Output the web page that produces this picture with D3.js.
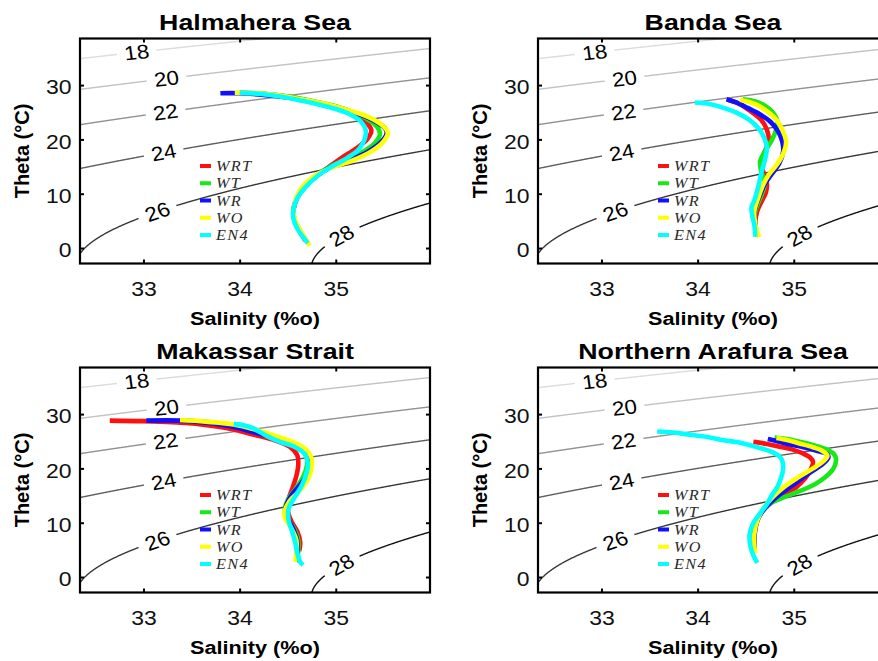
<!DOCTYPE html>
<html>
<head>
<meta charset="utf-8">
<script src="https://cdn.jsdelivr.net/npm/d3@7"></script>
<style>
  html, body { margin: 0; padding: 0; background: #fff; }
  svg { display: block; }
</style>
</head>
<body>
<svg id="chart" width="878" height="661"></svg>
<script>
// ---- Data: theta–salinity profiles, [salinity, potential temperature] ----
const regions = ["Halmahera Sea", "Banda Sea", "Makassar Strait", "Northern Arafura Sea"];
const seriesNames = ["WRT", "WT", "WR", "WO", "EN4"];
const xTicks = [33, 34, 35];
const yTicks = [0, 10, 20, 30];
const sigmaLevels = [18, 20, 22, 24, 26, 28];

const halmaheraWRT = [[34.00,28.6],[34.25,28.4],[34.50,27.9],[34.75,27.0],[35.00,25.9],[35.18,24.6],[35.31,23.2],[35.37,21.7],[35.33,20.1],[35.21,18.3],[35.06,16.6],[34.95,15.2],[34.82,13.5],[34.68,11.3],[34.60,9.2],[34.56,7.1],[34.57,5.3],[34.61,3.5],[34.68,1.5]];
const halmaheraWT  = [[34.00,28.6],[34.25,28.4],[34.50,27.9],[34.75,27.1],[35.00,26.1],[35.18,25.0],[35.33,23.7],[35.43,22.3],[35.46,21.0],[35.41,19.4],[35.27,17.6],[35.07,16.0],[34.92,14.8],[34.79,13.2],[34.67,11.2],[34.59,9.0],[34.56,7.0],[34.57,5.2],[34.62,3.4],[34.70,1.2]];
const halmaheraWR  = [[33.80,28.5],[34.00,28.5],[34.25,28.2],[34.50,27.7],[34.75,27.0],[35.00,26.0],[35.20,24.9],[35.38,23.6],[35.51,22.1],[35.53,21.2],[35.47,19.5],[35.33,17.7],[35.13,16.1],[34.94,14.8],[34.79,13.2],[34.67,11.2],[34.59,9.0],[34.56,7.0],[34.57,5.2],[34.62,3.4],[34.69,1.3]];
const halmaheraWO  = [[33.95,28.6],[34.20,28.5],[34.45,28.0],[34.70,27.2],[34.95,26.3],[35.15,25.3],[35.33,24.2],[35.47,22.8],[35.54,21.3],[35.50,19.7],[35.37,17.8],[35.17,16.1],[34.94,14.7],[34.76,13.0],[34.64,11.0],[34.58,8.8],[34.56,6.6],[34.59,4.6],[34.65,2.7],[34.73,0.4]];
const halmaheraEN4 = [[34.00,28.6],[34.20,28.4],[34.45,27.8],[34.65,27.1],[34.80,26.5],[35.00,25.6],[35.15,24.6],[35.26,23.3],[35.31,21.8],[35.30,20.0],[35.24,18.2],[35.12,16.6],[34.96,15.0],[34.82,13.4],[34.69,11.3],[34.60,9.2],[34.56,7.2],[34.56,5.4],[34.60,3.6],[34.66,2.0],[34.71,0.9]];

const bandaWRT = [[34.32,27.3],[34.44,26.5],[34.55,25.2],[34.66,23.6],[34.72,21.8],[34.74,19.8],[34.70,17.8],[34.66,15.9],[34.68,14.2],[34.72,12.0],[34.71,10.2],[34.66,8.4],[34.62,6.8],[34.60,4.8],[34.62,2.4]];
const bandaWT  = [[34.47,27.4],[34.60,27.0],[34.70,26.2],[34.79,24.8],[34.83,23.3],[34.82,22.0],[34.77,19.8],[34.70,17.8],[34.65,16.0],[34.66,14.2],[34.70,12.0],[34.66,9.6],[34.62,7.8],[34.59,6.0],[34.60,4.0],[34.62,2.2]];
const bandaWR  = [[34.30,27.4],[34.40,26.8],[34.52,25.8],[34.65,24.6],[34.76,23.2],[34.84,21.4],[34.88,19.6],[34.89,17.8],[34.85,15.6],[34.77,13.6],[34.70,11.8],[34.66,10.2],[34.62,8.4],[34.59,6.4],[34.60,4.2],[34.62,2.2]];
const bandaWO  = [[34.44,27.3],[34.60,26.5],[34.72,25.2],[34.82,23.6],[34.88,21.8],[34.92,19.6],[34.90,17.8],[34.83,15.5],[34.74,13.5],[34.68,11.6],[34.63,9.2],[34.59,6.8],[34.60,4.4],[34.64,2.0]];
const bandaEN4 = [[33.97,26.8],[34.10,26.6],[34.27,25.8],[34.42,24.8],[34.53,23.7],[34.63,22.1],[34.69,20.4],[34.72,18.6],[34.71,17.0],[34.69,15.6],[34.66,13.6],[34.63,11.2],[34.59,8.8],[34.56,7.5],[34.57,5.8],[34.59,4.2],[34.60,2.1]];

const makassarWRT = [[32.65,28.8],[33.00,28.7],[33.30,28.5],[33.60,28.1],[33.90,27.3],[34.15,26.2],[34.38,25.1],[34.52,24.0],[34.60,22.4],[34.61,20.6],[34.59,18.6],[34.55,16.4],[34.51,14.4],[34.50,12.4],[34.54,10.2],[34.60,8.4],[34.63,6.4],[34.62,4.8]];
const makassarWT  = [[33.40,28.8],[33.70,28.5],[33.95,27.8],[34.20,26.6],[34.42,25.3],[34.60,24.0],[34.69,22.4],[34.70,20.6],[34.66,18.4],[34.58,16.2],[34.50,14.2],[34.47,12.4],[34.50,10.6],[34.57,8.8],[34.61,6.8],[34.61,4.8],[34.60,2.8]];
const makassarWR  = [[33.03,28.8],[33.38,28.8],[33.65,28.4],[33.95,27.6],[34.20,26.4],[34.42,25.2],[34.60,24.0],[34.70,22.6],[34.73,20.8],[34.70,18.8],[34.62,16.8],[34.53,14.8],[34.48,12.8],[34.50,10.8],[34.56,8.8],[34.60,6.6],[34.60,4.4],[34.62,2.8]];
const makassarWO  = [[33.38,28.9],[33.65,28.6],[33.94,28.1],[34.15,27.2],[34.35,26.1],[34.55,24.9],[34.69,23.5],[34.75,21.8],[34.75,20.4],[34.72,18.3],[34.63,16.0],[34.52,14.0],[34.47,12.2],[34.47,11.0],[34.53,9.2],[34.59,6.8],[34.59,4.8],[34.58,2.8]];
const makassarEN4 = [[33.94,28.2],[34.05,27.9],[34.14,27.4],[34.22,26.6],[34.30,25.8],[34.42,24.9],[34.58,23.9],[34.68,22.6],[34.71,21.0],[34.70,19.4],[34.65,17.0],[34.57,14.6],[34.51,12.6],[34.51,10.4],[34.55,8.2],[34.58,6.2],[34.60,4.4],[34.63,2.8],[34.66,2.2]];

const arafuraWRT = [[34.58,24.9],[34.72,24.5],[34.85,24.0],[34.98,23.5],[35.09,22.8],[35.17,22.0],[35.20,21.2],[35.17,19.6],[35.12,18.2],[35.03,16.6],[34.90,15.1],[34.78,13.9],[34.70,12.6],[34.63,10.8],[34.60,9.0],[34.59,7.2],[34.59,5.2]];
const arafuraWT  = [[34.80,25.7],[34.93,25.4],[35.06,24.9],[35.20,24.3],[35.34,23.5],[35.42,22.6],[35.44,21.6],[35.41,19.9],[35.33,18.4],[35.22,17.1],[35.06,15.8],[34.90,14.7],[34.76,13.6],[34.66,11.8],[34.60,10.0],[34.58,8.0],[34.59,6.0]];
const arafuraWR  = [[34.73,25.4],[34.85,24.9],[34.96,24.4],[35.10,23.9],[35.23,23.3],[35.35,22.6],[35.36,22.0],[35.30,20.8],[35.15,19.0],[35.02,17.3],[34.90,15.8],[34.80,14.4],[34.70,12.7],[34.63,10.8],[34.60,8.8],[34.59,6.6],[34.59,5.0]];
const arafuraWO  = [[34.82,25.6],[34.94,25.2],[35.06,24.6],[35.20,23.9],[35.30,23.2],[35.35,22.3],[35.30,21.2],[35.20,20.0],[35.05,18.4],[34.90,16.6],[34.78,14.7],[34.69,12.8],[34.62,10.4],[34.59,8.0],[34.59,5.6],[34.60,4.4]];
const arafuraEN4 = [[33.58,26.8],[33.75,26.6],[33.92,26.2],[34.10,25.8],[34.27,25.2],[34.42,24.8],[34.56,24.2],[34.70,23.5],[34.80,22.8],[34.87,21.8],[34.89,20.0],[34.87,18.4],[34.83,16.6],[34.77,15.0],[34.72,13.4],[34.64,11.5],[34.57,9.6],[34.54,7.8],[34.55,5.6],[34.58,4.0],[34.62,2.6]];

const regionSeries = [
  [halmaheraWRT, halmaheraWT, halmaheraWR, halmaheraWO, halmaheraEN4],
  [bandaWRT, bandaWT, bandaWR, bandaWO, bandaEN4],
  [makassarWRT, makassarWT, makassarWR, makassarWO, makassarEN4],
  [arafuraWRT, arafuraWT, arafuraWR, arafuraWO, arafuraEN4]
];

// ---- Styling and layout ----
const seriesColors = ["#ff1010", "#18e818", "#1010ff", "#ffff00", "#00ffff"];
const sigmaColors = ["#dcdcdc", "#c2c2c2", "#929292", "#5e5e5e", "#383838", "#111111"];
const sigmaLabelS = [32.93, 33.24, 33.23, 33.21, 33.145, 35.06];
const panelLeft = [80, 538];
const panelTop = [38.5, 367.5];
const boxW = 350, boxH = 225;
const xDomain = [32.34, 35.98];
const yDomain = [-2.85, 38.58];
const SANS = "'Liberation Sans', Arial, Helvetica, sans-serif";
const SERIF = "'Liberation Serif', 'Times New Roman', serif";

// ---- Seawater density at surface pressure (UNESCO 1983), sigma-theta ----
function sigmaTheta(S, T) {
  const rw = 999.842594 + 6.793952e-2 * T - 9.095290e-3 * T * T + 1.001685e-4 * T ** 3
           - 1.120083e-6 * T ** 4 + 6.536332e-9 * T ** 5;
  const A = 0.824493 - 4.0899e-3 * T + 7.6438e-5 * T * T - 8.2467e-7 * T ** 3 + 5.3875e-9 * T ** 4;
  const B = -5.72466e-3 + 1.0227e-4 * T - 1.6546e-6 * T * T;
  const C = 4.8314e-4;
  return rw + A * S + B * S ** 1.5 + C * S * S - 1000;
}
// temperature on an isopycnal for a given salinity (bisection)
function isoTheta(S, level) {
  let lo = -3.5, hi = 45;
  if (sigmaTheta(S, lo) < level || sigmaTheta(S, hi) > level) return null;
  for (let k = 0; k < 50; k++) {
    const mid = (lo + hi) / 2;
    if (sigmaTheta(S, mid) > level) lo = mid; else hi = mid;
  }
  return (lo + hi) / 2;
}
const salGrid = d3.range(32.2, 36.2, 0.005);

const svg = d3.select("#chart");

regions.forEach((name, i) => {
  const col = i % 2, row = Math.floor(i / 2);
  const x0 = panelLeft[col], y0 = panelTop[row];
  const x = d3.scaleLinear().domain(xDomain).range([x0, x0 + boxW]);
  const y = d3.scaleLinear().domain(yDomain).range([y0 + boxH, y0]);
  const g = svg.append("g");

  const clipId = "clip" + i, maskId = "mask" + i;
  const defs = g.append("defs");
  defs.append("clipPath").attr("id", clipId)
    .append("rect").attr("x", x0).attr("y", y0).attr("width", boxW).attr("height", boxH);

  // isopycnal label positions and angles
  const labels = sigmaLevels.map((lev, k) => {
    const s = sigmaLabelS[k];
    const t = isoTheta(s, lev);
    const ta = isoTheta(s - 0.03, lev), tb = isoTheta(s + 0.03, lev);
    const px = x(s), py = y(t);
    const ang = Math.atan2(y(tb) - y(ta), x(s + 0.03) - x(s - 0.03));
    return { lev, px, py, ang };
  });

  const mask = defs.append("mask").attr("id", maskId).attr("maskUnits", "userSpaceOnUse")
    .attr("x", 0).attr("y", 0).attr("width", 878).attr("height", 661);
  mask.append("rect").attr("x", 0).attr("y", 0).attr("width", 878).attr("height", 661).attr("fill", "#fff");
  labels.forEach(L => {
    mask.append("rect").attr("x", -20).attr("y", -11).attr("width", 40).attr("height", 22)
      .attr("fill", "#000")
      .attr("transform", `translate(${L.px},${L.py}) rotate(${L.ang * 180 / Math.PI})`);
  });

  // isopycnals
  const contourG = g.append("g").attr("clip-path", `url(#${clipId})`)
    .append("g").attr("mask", `url(#${maskId})`);
  const iso = d3.line().defined(d => d[1] !== null).x(d => x(d[0])).y(d => y(d[1]));
  sigmaLevels.forEach((lev, k) => {
    const pts = salGrid.map(s => [s, isoTheta(s, lev)]);
    contourG.append("path").attr("d", iso(pts)).attr("fill", "none")
      .attr("stroke", sigmaColors[k]).attr("stroke-width", 1.4);
  });

  // isopycnal labels
  const TXL = 1.12;
  labels.forEach(L => {
    const a2 = Math.atan(TXL * Math.tan(L.ang)) * 180 / Math.PI;
    g.append("text").text(L.lev)
      .attr("transform", `translate(${L.px},${L.py}) scale(${TXL},1) rotate(${a2})`)
      .attr("text-anchor", "middle").attr("dy", "0.35em")
      .attr("font-family", SANS).attr("font-size", 20).attr("fill", "#000");
  });

  // profiles
  const prof = d3.line().x(d => x(d[0])).y(d => y(d[1])).curve(d3.curveCatmullRom.alpha(0.5));
  const profG = g.append("g").attr("clip-path", `url(#${clipId})`);
  regionSeries[i].forEach((data, k) => {
    profG.append("path").attr("d", prof(data)).attr("fill", "none")
      .attr("stroke", seriesColors[k]).attr("stroke-width", 4.6)
      .attr("stroke-linejoin", "round").attr("stroke-linecap", "butt");
  });

  // legend
  const lg = g.append("g");
  seriesNames.forEach((nm, k) => {
    const cy = y0 + 127.5 + k * 17.25;
    lg.append("rect").attr("x", x0 + 120).attr("y", cy - 2).attr("width", 11).attr("height", 4)
      .attr("fill", seriesColors[k]);
    lg.append("text").text(nm)
      .attr("transform", `translate(${x0 + 136},${cy + 5}) scale(1.12,1)`)
      .attr("font-family", SERIF).attr("font-style", "italic").attr("font-size", 14.5)
      .attr("letter-spacing", 1.2).attr("fill", "#2a2a2a");
  });

  // axes: inward ticks on all sides
  const tk = 4;
  const bottom = g.append("g").attr("transform", `translate(0,${y0 + boxH})`)
    .call(d3.axisBottom(x).tickValues(xTicks).tickSizeInner(-tk).tickSizeOuter(0).tickPadding(18).tickFormat(d3.format("d")));
  const top = g.append("g").attr("transform", `translate(0,${y0})`)
    .call(d3.axisTop(x).tickValues(xTicks).tickSizeInner(-tk).tickSizeOuter(0).tickFormat(""));
  const left = g.append("g").attr("transform", `translate(${x0},0)`)
    .call(d3.axisLeft(y).tickValues(yTicks).tickSizeInner(-tk).tickSizeOuter(0).tickPadding(7.6).tickFormat(d3.format("d")));
  const right = g.append("g").attr("transform", `translate(${x0 + boxW},0)`)
    .call(d3.axisRight(y).tickValues(yTicks).tickSizeInner(-tk).tickSizeOuter(0).tickFormat(""));
  [bottom, top, left, right].forEach(a => {
    a.select(".domain").remove();
    a.selectAll(".tick line").attr("stroke", "#000").attr("stroke-width", 2);
    a.selectAll(".tick text").attr("font-family", SANS).attr("font-size", 20.5).attr("fill", "#111")
      .attr("transform", "scale(1.12,1)");
  });
  left.selectAll(".tick text").attr("dy", "0.42em");

  // frame
  g.append("rect").attr("x", x0).attr("y", y0).attr("width", boxW).attr("height", boxH)
    .attr("fill", "none").attr("stroke", "#000").attr("stroke-width", 2.2);

  // titles and axis labels
  const cx = x0 + boxW / 2;
  g.append("text").text(name)
    .attr("transform", `translate(${cx},${y0 - 9}) scale(1.25,1)`)
    .attr("text-anchor", "middle").attr("font-family", SANS).attr("font-weight", "bold")
    .attr("font-size", 21.4).attr("fill", "#000");
  g.append("text").text("Salinity (%o)")
    .attr("transform", `translate(${cx},${y0 + boxH + 61.5}) scale(1.14,1)`)
    .attr("text-anchor", "middle").attr("font-family", SANS).attr("font-weight", "bold")
    .attr("font-size", 19).attr("fill", "#000");
  g.append("text").text("Theta (\u00B0C)")
    .attr("transform", `translate(${x0 - 51},${y0 + boxH / 2}) rotate(-90)`)
    .attr("text-anchor", "middle").attr("font-family", SANS).attr("font-weight", "bold")
    .attr("font-size", 20).attr("fill", "#000");
});
</script>
</body>
</html>
